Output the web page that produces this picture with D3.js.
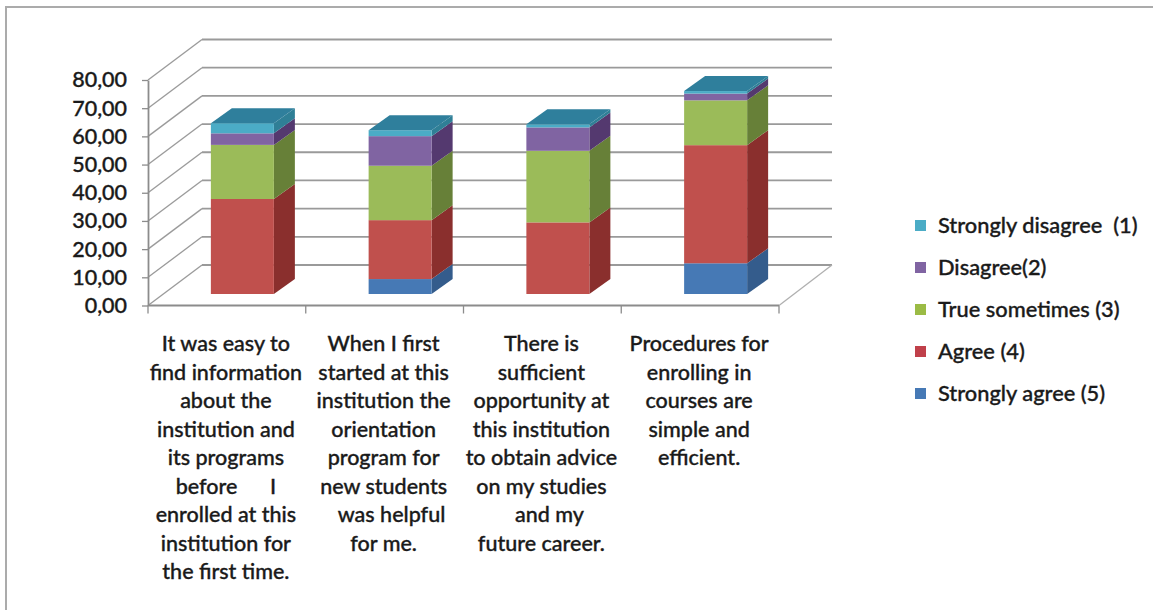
<!DOCTYPE html>
<html>
<head>
<meta charset="utf-8">
<script src="https://cdn.jsdelivr.net/npm/d3@7"></script>
<style>
	body { margin: 0; background: #fff; }
	text { font-family: Lato, "Open Sans", sans-serif; fill: #1a1a1a; stroke: #1a1a1a; stroke-width: 0.35px; }
</style>
</head>
<body>
<div id="graph"></div>
<script>
// values, bottom of the stack first
const categories = ["q1", "q2", "q3", "q4"];
const seriesNames = ["Strongly agree (5)", "Agree (4)", "True sometimes (3)", "Disagree(2)", "Strongly disagree  (1)"];
const stronglyAgree = [0, 5.3, 0, 10.9];
const agree = [33.7, 20.9, 25.4, 41.9];
const trueSometimes = [19.2, 19.3, 25.4, 15.9];
const disagree = [4.1, 10.5, 8.3, 2.4];
const stronglyDisagree = [3.6, 2.1, 1.1, 0.9];
const yTicks = [0, 10, 20, 30, 40, 50, 60, 70, 80];
const categoryLabels = [
	["It was easy to", "find information", "about the", "institution and", "its programs", "before      I", "enrolled at this", "institution for", "the first time."],
	["When I first", "started at this", "institution the", "orientation", "program for", "new students", "   was helpful", "for me."],
	["There is", "sufficient", "opportunity at", "this institution", "to obtain advice", "on my studies", "   and my", "future career."],
	["Procedures for", "enrolling in", "courses are", "simple and", "efficient."],
];
const frontColors = ["#4679b5", "#c0504d", "#9bbb59", "#8064a2", "#4bacc6"];
const sideColors = ["#345c8c", "#8a2f2d", "#678038", "#54396f", "#2f7f96"];
const topColor = "#2f7f9c";
const legendColors = ["#4679b5", "#c0404a", "#9bbb45", "#8064a2", "#4bacc6"];

const series = [stronglyAgree, agree, trueSometimes, disagree, stronglyDisagree];

const width = 1153, height = 610;
const plotLeft = 148, plotRight = 779, plotBottom = 305.5, plotTop = 80;
const wallDx = 54, wallDy = -40.5; // depth of the floor
const barDx = 21, barDy = -15; // depth of a bar
const baseDx = 15.5, baseDy = -11.5; // where the bars stand on the floor

const svg = d3.select("#graph").append("svg")
	.attr("width", width)
	.attr("height", height)
	.style("display", "block");

// chart frame, only top and left show
svg.append("path")
	.attr("d", "M6,610V7H1153")
	.attr("fill", "none")
	.attr("stroke", "#ababab")
	.attr("stroke-width", 2);

const x = d3.scaleBand().domain(categories).range([plotLeft, plotRight]);
const y = d3.scaleLinear().domain([0, 80]).range([plotBottom, plotTop]);
const barWidth = 63;

// back wall grid and the side wall diagonals
const grid = svg.append("g").attr("stroke", "#9a9a9a").attr("fill", "none");
yTicks.forEach((t) => {
	grid.append("line")
		.attr("x1", plotLeft).attr("y1", y(t))
		.attr("x2", plotLeft + wallDx).attr("y2", y(t) + wallDy)
		.attr("stroke-width", 1.3);
	grid.append("line")
		.attr("x1", plotLeft + wallDx).attr("y1", y(t) + wallDy)
		.attr("x2", plotRight + wallDx - 1).attr("y2", y(t) + wallDy)
		.attr("stroke-width", 1.8);
});
// floor edge on the right
grid.append("line")
	.attr("x1", plotRight).attr("y1", y(0))
	.attr("x2", plotRight + wallDx - 1).attr("y2", y(0) + wallDy)
	.attr("stroke", "#b0b0b0")
	.attr("stroke-width", 1.3);

// y axis
const yAxis = svg.append("g")
	.attr("transform", `translate(${plotLeft},0)`)
	.call(d3.axisLeft(y).tickValues(yTicks).tickSize(6).tickSizeOuter(0).tickFormat((d) => d3.format(".2f")(d).replace(".", ",")));
yAxis.select(".domain").attr("stroke", "#8c8c8c").attr("stroke-width", 1.8);
yAxis.selectAll("line").attr("stroke", "#8c8c8c").attr("stroke-width", 1.3);
yAxis.selectAll("text")
	.attr("x", -21)
	.style("font-family", "Lato")
	.style("font-size", "21.5px")
	.style("font-weight", 500);

// x axis, ticks sit on the band edges
const xAxis = svg.append("g");
xAxis.append("line")
	.attr("x1", plotLeft).attr("x2", plotRight)
	.attr("y1", y(0)).attr("y2", y(0))
	.attr("stroke", "#8c8c8c").attr("stroke-width", 1.8);
[...categories.map((c) => x(c)), plotRight].forEach((px) => {
	xAxis.append("line")
		.attr("x1", px).attr("x2", px)
		.attr("y1", y(0)).attr("y2", y(0) + 8)
		.attr("stroke", "#8c8c8c").attr("stroke-width", 1.3);
});

// stacked boxes
categories.forEach((c, i) => {
	const x0 = x(c) + (x.bandwidth() - barWidth) / 2 + baseDx;
	const x1 = x0 + barWidth;
	let run = 0;
	const g = svg.append("g");
	series.forEach((s, k) => {
		const v = s[i];
		const yb = y(run) + baseDy;
		const yt = y(run + v) + baseDy;
		run += v;
		if (v === 0) return;
		g.append("path")
			.attr("d", `M${x1},${yb}L${x1 + barDx},${yb + barDy}L${x1 + barDx},${yt + barDy}L${x1},${yt}Z`)
			.attr("fill", sideColors[k]);
		g.append("rect")
			.attr("x", x0).attr("y", yt)
			.attr("width", barWidth).attr("height", yb - yt)
			.attr("fill", frontColors[k]);
	});
	const yTop = y(run) + baseDy;
	g.append("path")
		.attr("d", `M${x0},${yTop}L${x0 + barDx},${yTop + barDy}L${x1 + barDx},${yTop + barDy}L${x1},${yTop}Z`)
		.attr("fill", topColor);
});

// category labels
categoryLabels.forEach((lines, i) => {
	const cx = x(categories[i]) + x.bandwidth() / 2 - 1;
	const t = svg.append("text")
		.attr("text-anchor", "middle")
		.style("white-space", "pre")
		.style("font-size", "21.5px")
		.style("font-weight", 500);
	lines.forEach((line, j) => {
		t.append("tspan")
			.attr("x", cx)
			.attr("y", 351 + j * 28.5)
			.text(line);
	});
});

// legend, top entry is the last series
const legendY = d3.scalePoint()
	.domain(d3.range(seriesNames.length))
	.range([394, 226]);
seriesNames.forEach((name, k) => {
	svg.append("rect")
		.attr("x", 915).attr("y", legendY(k) - 6)
		.attr("width", 11).attr("height", 11)
		.attr("fill", legendColors[k]);
	svg.append("text")
		.attr("x", 938).attr("y", legendY(k) + 7)
		.style("white-space", "pre")
		.style("font-size", "21.8px")
		.style("font-weight", 500)
		.text(name);
});
</script>
</body>
</html>
